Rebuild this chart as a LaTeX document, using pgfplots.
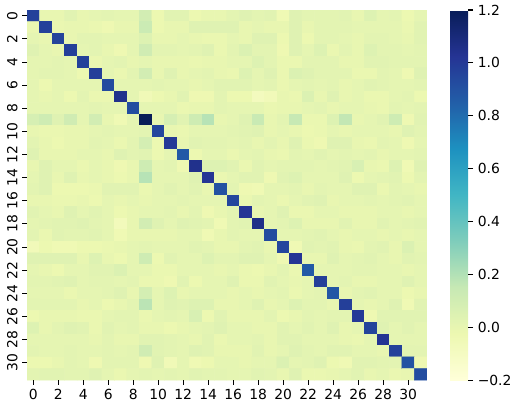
\documentclass[border=0pt]{standalone}
\usepackage{fontspec}
\setmainfont{DejaVu Sans}
\usepackage{pgfplots}
\pgfplotsset{compat=1.18}

\pgfplotsset{
  colormap={ylgnbu}{
    rgb255=(255,255,217) rgb255=(237,248,177) rgb255=(199,233,180)
    rgb255=(127,205,187) rgb255=(65,182,196)  rgb255=(29,145,192)
    rgb255=(34,94,168)   rgb255=(37,52,148)   rgb255=(8,29,88)
  },
}

\begin{document}
\begin{tikzpicture}
\begin{axis}[
  name=ax,
  scale only axis,
  width=299.25pt, height=277pt,
  font=\fontsize{10.4}{12}\selectfont,
  colormap name=ylgnbu,
  point meta min=-0.2, point meta max=1.2,
  xmin=-0.5, xmax=31.5, ymin=-0.5, ymax=31.5,
  y dir=reverse, enlargelimits=false,
  axis line style={draw=none},
  xtick={0,2,...,30}, ytick={0,2,...,30},
  xtick pos=left, ytick pos=left,
  tick align=outside, major tick length=3.65pt,
  tick style={black, line width=0.8pt},
  /pgf/number format/assume math mode=true,
  yticklabel style={rotate=90, anchor=south},
  colorbar,
  colorbar style={
    scale only axis,
    width=13.5pt, height=277pt,
    at={(parent axis.north east)}, anchor=north west, xshift=8.9pt,
    axis line style={draw=none},
    ytick={-0.2,0,0.2,0.4,0.6,0.8,1.0,1.2},
    yticklabels={−0.2,0.0,0.2,0.4,0.6,0.8,1.0,1.2},
    ytick pos=right, tick align=outside, major tick length=3.65pt,
    tick style={black, line width=0.8pt},
    yticklabel style={font=\fontsize{10.4}{12}\selectfont},
  },
]
% 32 x 32 matrix, row by row (row 0 = top)
\addplot[matrix plot, mesh/cols=32, point meta=explicit]
  table[row sep=\\, header=false, meta index=0,
        x expr={\coordindex-32*floor((\coordindex+0.5)/32)},
        y expr={floor((\coordindex+0.5)/32)}] {
0.97\\ 0.00\\ 0.00\\ 0.03\\ 0.00\\ 0.01\\ 0.02\\ 0.01\\ 0.01\\ 0.10\\ -0.02\\ 0.03\\ 0.03\\ -0.02\\ 0.00\\ 0.00\\ 0.02\\ 0.04\\ 0.02\\ 0.03\\ -0.04\\ 0.04\\ 0.02\\ 0.02\\ 0.02\\ 0.03\\ 0.00\\ 0.05\\ 0.01\\ 0.02\\ -0.02\\ 0.01\\
-0.01\\ 0.97\\ -0.01\\ 0.00\\ 0.00\\ -0.01\\ -0.03\\ 0.00\\ 0.00\\ 0.13\\ -0.02\\ 0.00\\ 0.00\\ 0.04\\ 0.04\\ 0.04\\ 0.04\\ 0.00\\ 0.01\\ 0.00\\ 0.00\\ 0.04\\ 0.00\\ 0.02\\ 0.02\\ 0.02\\ 0.01\\ 0.01\\ 0.01\\ 0.01\\ -0.01\\ 0.03\\
0.01\\ 0.00\\ 0.96\\ 0.00\\ 0.02\\ 0.02\\ 0.01\\ 0.01\\ 0.01\\ 0.05\\ 0.00\\ 0.00\\ 0.01\\ 0.00\\ -0.01\\ -0.01\\ 0.01\\ 0.00\\ 0.04\\ 0.04\\ -0.02\\ 0.04\\ -0.02\\ 0.02\\ 0.02\\ 0.01\\ 0.00\\ 0.02\\ 0.02\\ 0.01\\ 0.00\\ 0.03\\
0.04\\ 0.01\\ 0.00\\ 0.98\\ 0.01\\ 0.02\\ 0.00\\ -0.03\\ 0.01\\ 0.11\\ 0.02\\ 0.02\\ 0.01\\ 0.02\\ 0.04\\ -0.01\\ 0.02\\ 0.06\\ 0.02\\ 0.02\\ -0.03\\ 0.04\\ 0.01\\ 0.05\\ -0.01\\ 0.02\\ 0.00\\ 0.05\\ 0.02\\ 0.02\\ 0.01\\ 0.02\\
0.01\\ 0.01\\ 0.02\\ 0.01\\ 0.97\\ -0.01\\ 0.01\\ 0.02\\ 0.00\\ 0.01\\ 0.00\\ 0.00\\ 0.00\\ -0.01\\ 0.00\\ 0.00\\ 0.01\\ 0.01\\ 0.05\\ 0.02\\ -0.01\\ -0.01\\ 0.02\\ 0.02\\ 0.02\\ 0.00\\ 0.00\\ 0.03\\ 0.03\\ 0.02\\ 0.02\\ 0.02\\
0.01\\ 0.02\\ 0.02\\ 0.01\\ -0.02\\ 0.98\\ 0.01\\ -0.01\\ 0.02\\ 0.10\\ 0.00\\ 0.04\\ 0.00\\ 0.01\\ 0.02\\ 0.00\\ -0.01\\ 0.05\\ 0.01\\ 0.04\\ -0.01\\ 0.06\\ 0.04\\ 0.02\\ 0.02\\ 0.02\\ -0.01\\ -0.01\\ 0.02\\ 0.01\\ -0.03\\ 0.04\\
0.01\\ -0.02\\ 0.01\\ 0.01\\ 0.01\\ 0.01\\ 0.93\\ 0.01\\ 0.01\\ 0.01\\ 0.02\\ 0.01\\ 0.01\\ 0.00\\ 0.01\\ 0.03\\ 0.03\\ 0.03\\ 0.01\\ 0.02\\ -0.01\\ 0.01\\ 0.02\\ 0.01\\ 0.02\\ 0.00\\ 0.01\\ 0.03\\ 0.02\\ 0.01\\ 0.01\\ 0.02\\
0.01\\ 0.00\\ 0.01\\ -0.02\\ 0.02\\ -0.01\\ -0.01\\ 1.05\\ 0.01\\ -0.05\\ -0.02\\ 0.00\\ 0.03\\ -0.03\\ -0.03\\ 0.02\\ -0.02\\ -0.02\\ -0.08\\ -0.06\\ 0.00\\ -0.01\\ 0.06\\ 0.00\\ 0.04\\ 0.00\\ 0.01\\ -0.01\\ -0.01\\ 0.01\\ 0.02\\ -0.02\\
0.01\\ 0.01\\ 0.01\\ 0.01\\ 0.01\\ 0.02\\ 0.01\\ 0.01\\ 0.92\\ 0.01\\ 0.01\\ 0.01\\ -0.01\\ 0.00\\ 0.00\\ 0.02\\ 0.01\\ 0.01\\ 0.01\\ -0.01\\ 0.00\\ 0.00\\ 0.01\\ 0.02\\ 0.00\\ 0.01\\ 0.01\\ 0.00\\ -0.01\\ 0.02\\ 0.01\\ 0.02\\
0.08\\ 0.12\\ 0.04\\ 0.11\\ 0.01\\ 0.10\\ 0.00\\ -0.04\\ 0.01\\ 1.20\\ 0.00\\ 0.08\\ 0.03\\ 0.12\\ 0.19\\ 0.00\\ 0.01\\ 0.04\\ 0.14\\ 0.00\\ 0.02\\ 0.15\\ -0.01\\ -0.01\\ 0.05\\ 0.16\\ 0.00\\ 0.01\\ 0.03\\ 0.12\\ -0.03\\ 0.03\\
0.00\\ -0.01\\ -0.01\\ 0.00\\ 0.00\\ 0.01\\ 0.02\\ 0.01\\ 0.01\\ 0.02\\ 0.95\\ 0.00\\ -0.01\\ 0.01\\ 0.01\\ 0.01\\ 0.02\\ 0.03\\ 0.04\\ 0.00\\ 0.01\\ 0.00\\ -0.02\\ -0.01\\ 0.01\\ 0.00\\ 0.01\\ 0.01\\ 0.01\\ 0.00\\ 0.04\\ 0.02\\
0.02\\ 0.00\\ -0.02\\ 0.00\\ 0.00\\ 0.02\\ 0.01\\ -0.01\\ 0.02\\ 0.09\\ -0.02\\ 1.00\\ 0.00\\ 0.03\\ 0.02\\ 0.02\\ 0.01\\ 0.02\\ 0.00\\ 0.02\\ 0.00\\ 0.04\\ -0.01\\ -0.03\\ 0.04\\ 0.04\\ 0.00\\ -0.01\\ 0.02\\ 0.01\\ -0.03\\ 0.01\\
0.04\\ 0.00\\ 0.00\\ 0.00\\ 0.01\\ 0.01\\ 0.00\\ 0.04\\ 0.02\\ 0.03\\ -0.02\\ 0.01\\ 0.87\\ -0.02\\ 0.01\\ 0.01\\ -0.01\\ 0.01\\ 0.02\\ 0.00\\ -0.01\\ 0.02\\ 0.01\\ 0.03\\ 0.01\\ 0.02\\ 0.01\\ 0.02\\ 0.00\\ 0.01\\ 0.01\\ 0.02\\
0.00\\ 0.04\\ 0.01\\ 0.01\\ -0.01\\ 0.01\\ 0.00\\ -0.03\\ 0.00\\ 0.12\\ 0.01\\ 0.02\\ -0.03\\ 1.05\\ 0.05\\ 0.05\\ 0.03\\ -0.01\\ 0.03\\ 0.01\\ 0.02\\ 0.02\\ 0.02\\ 0.01\\ 0.02\\ 0.03\\ 0.07\\ 0.00\\ -0.01\\ 0.05\\ -0.04\\ 0.04\\
0.01\\ 0.04\\ 0.00\\ 0.04\\ 0.00\\ 0.01\\ 0.00\\ -0.02\\ 0.00\\ 0.19\\ 0.01\\ 0.01\\ 0.01\\ 0.04\\ 1.02\\ -0.01\\ 0.01\\ 0.03\\ 0.03\\ -0.03\\ 0.03\\ 0.05\\ 0.01\\ 0.01\\ 0.01\\ 0.04\\ -0.02\\ 0.01\\ 0.02\\ 0.03\\ -0.02\\ 0.02\\
0.02\\ 0.04\\ -0.02\\ -0.02\\ -0.02\\ -0.01\\ 0.03\\ 0.03\\ 0.03\\ -0.01\\ 0.01\\ 0.03\\ 0.01\\ 0.03\\ 0.00\\ 0.90\\ 0.02\\ -0.03\\ -0.04\\ 0.01\\ 0.01\\ 0.02\\ 0.00\\ 0.02\\ 0.01\\ 0.01\\ 0.04\\ 0.04\\ -0.01\\ 0.02\\ 0.01\\ 0.00\\
0.00\\ 0.00\\ -0.01\\ -0.01\\ 0.00\\ -0.02\\ 0.01\\ 0.00\\ 0.01\\ 0.00\\ 0.01\\ 0.01\\ 0.02\\ 0.01\\ 0.01\\ 0.01\\ 0.95\\ -0.01\\ 0.02\\ 0.01\\ -0.01\\ 0.01\\ 0.03\\ 0.04\\ 0.00\\ 0.01\\ 0.01\\ 0.02\\ 0.01\\ 0.02\\ 0.03\\ 0.01\\
0.03\\ 0.01\\ 0.00\\ 0.04\\ 0.01\\ 0.03\\ 0.01\\ -0.02\\ 0.00\\ 0.01\\ 0.01\\ 0.02\\ 0.00\\ 0.02\\ -0.03\\ 0.00\\ 0.02\\ 1.02\\ 0.00\\ 0.01\\ 0.04\\ -0.01\\ -0.01\\ 0.01\\ 0.01\\ 0.00\\ 0.00\\ 0.00\\ 0.01\\ 0.01\\ 0.00\\ 0.01\\
0.01\\ 0.02\\ 0.03\\ 0.03\\ 0.04\\ 0.02\\ 0.01\\ -0.07\\ 0.00\\ 0.10\\ 0.04\\ 0.01\\ 0.04\\ 0.03\\ 0.02\\ -0.04\\ 0.02\\ 0.03\\ 1.06\\ 0.01\\ 0.02\\ 0.05\\ 0.00\\ 0.00\\ 0.00\\ 0.03\\ 0.00\\ 0.00\\ 0.03\\ 0.01\\ 0.02\\ 0.03\\
0.02\\ -0.01\\ 0.03\\ 0.02\\ 0.02\\ 0.03\\ 0.01\\ -0.04\\ 0.00\\ 0.00\\ 0.00\\ 0.00\\ 0.01\\ 0.01\\ -0.04\\ 0.00\\ 0.02\\ 0.01\\ 0.01\\ 0.93\\ 0.01\\ 0.01\\ 0.02\\ 0.03\\ 0.01\\ 0.00\\ 0.01\\ 0.01\\ 0.00\\ 0.01\\ 0.00\\ 0.01\\
-0.06\\ -0.02\\ -0.04\\ -0.04\\ -0.02\\ -0.02\\ -0.01\\ 0.00\\ 0.01\\ 0.02\\ 0.01\\ 0.01\\ 0.01\\ 0.03\\ 0.02\\ 0.00\\ 0.00\\ 0.02\\ 0.03\\ 0.00\\ 0.95\\ -0.04\\ 0.03\\ 0.02\\ 0.03\\ 0.00\\ -0.01\\ 0.02\\ 0.03\\ 0.00\\ 0.06\\ 0.01\\
0.04\\ 0.04\\ 0.04\\ 0.04\\ 0.00\\ 0.05\\ 0.00\\ -0.02\\ 0.01\\ 0.12\\ -0.02\\ 0.03\\ 0.01\\ 0.01\\ 0.05\\ 0.02\\ 0.02\\ 0.04\\ 0.04\\ 0.01\\ -0.03\\ 1.02\\ 0.00\\ 0.00\\ 0.04\\ 0.01\\ 0.02\\ 0.03\\ 0.01\\ 0.00\\ 0.03\\ 0.02\\
0.01\\ 0.00\\ -0.02\\ 0.01\\ 0.01\\ 0.03\\ 0.03\\ 0.06\\ 0.01\\ 0.01\\ -0.01\\ -0.01\\ 0.01\\ 0.01\\ 0.01\\ 0.00\\ 0.01\\ -0.01\\ -0.02\\ 0.00\\ 0.02\\ -0.01\\ 0.87\\ 0.01\\ 0.01\\ 0.01\\ 0.02\\ 0.02\\ 0.01\\ 0.01\\ 0.00\\ 0.01\\
0.02\\ 0.02\\ 0.03\\ 0.04\\ 0.01\\ 0.02\\ 0.02\\ 0.01\\ 0.02\\ -0.01\\ -0.01\\ -0.03\\ 0.03\\ -0.02\\ 0.01\\ 0.01\\ 0.04\\ -0.01\\ -0.01\\ 0.03\\ 0.01\\ 0.00\\ 0.01\\ 0.98\\ 0.01\\ 0.02\\ 0.00\\ 0.00\\ 0.01\\ 0.01\\ 0.04\\ 0.01\\
0.01\\ 0.01\\ 0.01\\ -0.01\\ 0.01\\ 0.01\\ 0.02\\ 0.04\\ 0.00\\ 0.09\\ 0.01\\ 0.05\\ 0.00\\ 0.01\\ 0.01\\ 0.01\\ 0.00\\ 0.01\\ 0.00\\ 0.01\\ 0.02\\ -0.01\\ 0.01\\ 0.02\\ 0.88\\ 0.00\\ 0.02\\ 0.03\\ 0.01\\ 0.01\\ -0.02\\ 0.00\\
0.02\\ 0.02\\ 0.02\\ 0.02\\ 0.00\\ 0.01\\ -0.02\\ 0.00\\ 0.02\\ 0.18\\ 0.01\\ 0.04\\ 0.03\\ 0.05\\ 0.05\\ 0.00\\ 0.00\\ 0.01\\ 0.04\\ 0.00\\ 0.01\\ 0.05\\ 0.02\\ 0.02\\ 0.00\\ 0.98\\ 0.01\\ 0.00\\ 0.01\\ 0.04\\ -0.04\\ 0.03\\
-0.02\\ 0.00\\ 0.00\\ 0.00\\ -0.01\\ -0.01\\ 0.01\\ 0.02\\ 0.02\\ -0.01\\ 0.01\\ 0.02\\ 0.01\\ 0.07\\ -0.02\\ 0.03\\ 0.00\\ 0.00\\ 0.00\\ 0.02\\ -0.02\\ 0.00\\ 0.02\\ 0.01\\ 0.02\\ 0.02\\ 1.00\\ -0.03\\ 0.03\\ 0.03\\ 0.03\\ 0.03\\
0.05\\ 0.00\\ 0.02\\ 0.04\\ 0.03\\ -0.01\\ 0.03\\ 0.01\\ 0.02\\ 0.00\\ 0.00\\ -0.02\\ 0.00\\ 0.01\\ 0.02\\ 0.04\\ 0.01\\ 0.01\\ 0.00\\ 0.00\\ 0.03\\ 0.01\\ 0.03\\ 0.01\\ 0.04\\ 0.00\\ 0.01\\ 0.96\\ 0.04\\ 0.01\\ 0.03\\ 0.01\\
0.01\\ 0.01\\ 0.01\\ 0.01\\ 0.01\\ 0.00\\ 0.02\\ 0.00\\ 0.00\\ 0.03\\ 0.03\\ 0.02\\ 0.01\\ 0.00\\ 0.03\\ -0.01\\ 0.01\\ 0.01\\ 0.02\\ 0.00\\ 0.03\\ 0.03\\ 0.01\\ 0.01\\ 0.01\\ 0.00\\ -0.01\\ 0.01\\ 1.03\\ 0.01\\ 0.01\\ 0.01\\
0.02\\ 0.01\\ 0.01\\ 0.02\\ 0.01\\ 0.01\\ 0.02\\ 0.01\\ 0.02\\ 0.11\\ 0.03\\ 0.02\\ 0.01\\ 0.04\\ 0.03\\ 0.00\\ 0.00\\ 0.00\\ 0.03\\ 0.00\\ 0.01\\ 0.04\\ 0.02\\ 0.01\\ 0.03\\ 0.03\\ 0.01\\ 0.01\\ 0.00\\ 0.97\\ 0.02\\ 0.02\\
-0.02\\ -0.02\\ 0.00\\ 0.02\\ 0.01\\ -0.03\\ 0.02\\ 0.02\\ 0.02\\ -0.03\\ 0.04\\ -0.05\\ 0.01\\ -0.04\\ -0.02\\ 0.01\\ 0.01\\ 0.00\\ 0.01\\ 0.01\\ 0.06\\ 0.01\\ 0.02\\ 0.04\\ -0.02\\ -0.04\\ 0.03\\ 0.03\\ 0.02\\ 0.02\\ 0.90\\ -0.03\\
0.02\\ 0.03\\ 0.03\\ 0.02\\ 0.02\\ 0.04\\ 0.01\\ -0.01\\ 0.01\\ 0.02\\ 0.01\\ 0.02\\ 0.01\\ 0.03\\ 0.02\\ 0.02\\ 0.01\\ 0.01\\ 0.03\\ 0.02\\ 0.00\\ 0.04\\ -0.01\\ -0.01\\ 0.00\\ 0.01\\ 0.03\\ 0.00\\ 0.01\\ -0.01\\ 0.00\\ 0.92\\
};
\end{axis}
% page box matching the reference margins round the heatmap
\pgfresetboundingbox
\path[use as bounding box]
  ([xshift=-20.25pt, yshift=-18.4pt]ax.south west)
  rectangle ([xshift=65.25pt, yshift=7.5pt]ax.north east);
\end{tikzpicture}
\end{document}
